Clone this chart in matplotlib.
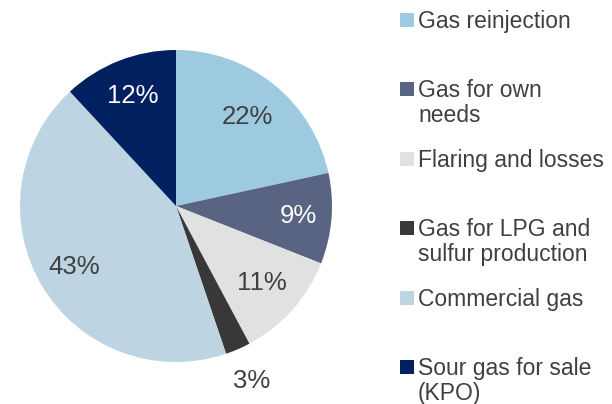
import numpy as np
import matplotlib
matplotlib.use('Agg')
import matplotlib.pyplot as plt
from matplotlib.patches import Rectangle

plt.rcParams['font.family'] = ['Liberation Sans', 'DejaVu Sans']

# data
categories = ['Gas reinjection', 'Gas for own\nneeds', 'Flaring and losses',
              'Gas for LPG and\nsulfur production', 'Commercial gas',
              'Sour gas for sale\n(KPO)']
shares = [21.6, 9.4, 11.2, 2.6, 43.3, 11.9]
pct_labels = ['22%', '9%', '11%', '3%', '43%', '12%']
colors = ['#9ECAE1', '#596482', '#E1E1E1', '#383838', '#BDD5E3', '#002060']
label_colors = ['#404040', 'white', '#404040', '#404040', '#404040', 'white']
label_dist = [0.73, 0.79, 0.74, 1.22, 0.76, 0.76]

W, H = 612, 404
fig = plt.figure(figsize=(W / 100, H / 100), dpi=100)

# pie centre (176, 206) px, radius 156 px
cx, cy, r = 176, 206, 156
ax = fig.add_axes([(cx - r) / W, (H - cy - r) / H, 2 * r / W, 2 * r / H])
wedges, _ = ax.pie(shares, colors=colors, startangle=90, counterclock=False,
                   radius=1, wedgeprops=dict(linewidth=0))
ax.set_xlim(-1, 1)
ax.set_ylim(-1, 1)
ax.axis('off')

for w, txt, col, d in zip(wedges, pct_labels, label_colors, label_dist):
    mid = np.deg2rad((w.theta1 + w.theta2) / 2)
    ax.text(d * np.cos(mid), d * np.sin(mid), txt, ha='center', va='center',
            fontsize=18.5, color=col, clip_on=False)

# legend drawn by hand, square beside the first line of each label
y0, step, line_h = 19.8, 69.5, 25
for i, (lab, col) in enumerate(zip(categories, colors)):
    yc = y0 + i * step
    fig.patches.append(Rectangle((400 / W, 1 - (yc + 7) / H), 13.5 / W, 14 / H,
                                 transform=fig.transFigure, facecolor=col,
                                 edgecolor='none'))
    for j, line in enumerate(lab.split('\n')):
        fig.text(418 / W, 1 - (yc + 7.8 + j * line_h) / H, line, ha='left',
                 va='baseline', fontsize=16.5, color='#404040')

fig.savefig('out.png', dpi=100)
